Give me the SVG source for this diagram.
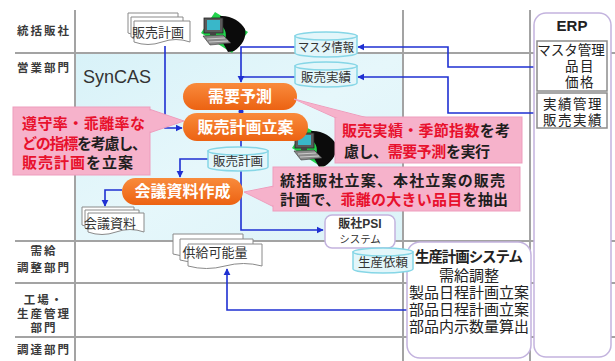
<svg xmlns="http://www.w3.org/2000/svg" width="615" height="361" viewBox="0 0 615 361">
<style>
text{font-family:"Noto Sans CJK JP","Liberation Sans",sans-serif}
.lat{font-family:"Liberation Sans","Noto Sans CJK JP",sans-serif}
.lbl{font-size:11.5px;font-weight:700;fill:#3a3a3a;text-anchor:middle;letter-spacing:2px}
.grid{stroke:#a3a3a3;stroke-width:2;fill:none}
.page{fill:#fff;stroke:#8a8a8a;stroke-width:1}
.doc{font-size:13px;fill:#333;text-anchor:middle}
.cyl{fill:#e3f6fa;stroke:#86d6e6;stroke-width:1.5}
.cylt{font-size:12.5px;fill:#333;text-anchor:middle}
.pill{fill:url(#orange)}
.pillt{font-size:16px;font-weight:700;fill:#fff;text-anchor:middle}
.call{fill:#f6b2cb;stroke:#ee9dbd;stroke-width:1}
.ct{font-size:15px;font-weight:700;fill:#1e1e1e}
.r{fill:#e8112d}
.sys{fill:#fff;stroke:#c3b3de;stroke-width:1.5}
.link{fill:none;stroke:#1f30d2;stroke-width:1.6}
.box{fill:#fff;stroke:#8c8c8c;stroke-width:1.5}
.st{font-size:15px;fill:#222;text-anchor:middle}
.et{font-size:13.5px;fill:#222;text-anchor:middle;letter-spacing:1.5px}
</style>
<defs>
  <linearGradient id="orange" x1="0" y1="0" x2="0" y2="1">
    <stop offset="0" stop-color="#f98b3c"/>
    <stop offset="1" stop-color="#ec6212"/>
  </linearGradient>
  <linearGradient id="panel" x1="0" y1="0" x2="1" y2="1">
    <stop offset="0" stop-color="#d8f2f8"/>
    <stop offset="0.5" stop-color="#e6f7fb"/>
    <stop offset="1" stop-color="#dcf3f8"/>
  </linearGradient>
  <marker id="arr" viewBox="0 0 10 10" refX="9" refY="5" markerWidth="4.5" markerHeight="4.5" orient="auto">
    <path d="M0,0 L10,5 L0,10 z" fill="#1f30d2"/>
  </marker>
  <!-- workstation icon: operator at a terminal on a green tile -->
  <g id="pc">
    <polygon points="14,0 47,20 31,41 0,21" fill="#22d24c"/>
    <path d="M19,4 C29,3 40,9 44,17 C46,25 41,34 33,39 L27,40 L22,31 C26,26 26,19 21,14 Z" fill="#0b0b0b"/>
    <rect x="3" y="6" width="19" height="15" fill="#5a5a5a" stroke="#222" stroke-width="0.8"/>
    <rect x="6" y="8" width="13" height="10" fill="#39b7c9"/>
    <rect x="9" y="21" width="6" height="2" fill="#444"/>
    <polygon points="2,24 22,23 30,31 9,33" fill="#8a8a8a" stroke="#333" stroke-width="0.6"/>
    <path d="M6,27 L24,26 M8,30 L27,29" stroke="#dcdcdc" stroke-width="0.8"/>
  </g>
</defs>

<rect width="615" height="361" fill="#fff"/>

<!-- sales department band -->
<rect x="76" y="54" width="326" height="186" fill="url(#panel)"/>

<!-- lane grid -->
<g id="grid" class="grid">
  <path d="M75,10 V361 M403,10 V361 M530,10 V361"/>
  <path d="M15,53 H615 M15,241 H615 M15,283 H615 M15,337 H615"/>
</g>

<!-- lane labels -->
<g id="lanes">
  <text class="lbl" x="44" y="35">統括販社</text>
  <text class="lbl" x="44" y="72">営業部門</text>
  <text class="lbl" x="44" y="255">需給<tspan x="44" dy="17">調整部門</tspan></text>
  <text class="lbl" x="44" y="304">工場・<tspan x="44" dy="14">生産管理</tspan><tspan x="44" dy="14">部門</tspan></text>
  <text class="lbl" x="44" y="354">調達部門</text>
</g>

<text class="lat" x="83" y="83" font-size="18" fill="#333">SynCAS</text>

<!-- connectors -->
<g id="connectors">
  <path class="link" d="M165,46 V128 H182" marker-end="url(#arr)"/>
  <path class="link" d="M295,47 H241 V82" marker-end="url(#arr)"/>
  <path class="link" d="M295,77 H241"/>
  <path class="link" d="M537,67 H448 V47 H358" marker-end="url(#arr)"/>
  <path class="link" d="M537,113 H448 V77 H358" marker-end="url(#arr)"/>
  <circle cx="241" cy="111.5" r="2.5" fill="#1f30d2"/>
  <path class="link" d="M241,141 V148"/>
  <path class="link" d="M208,159 H180 V177" marker-end="url(#arr)"/>
  <path class="link" d="M122,190 H105 V206" marker-end="url(#arr)"/>
  <path class="link" d="M241,170 V230 H323" marker-end="url(#arr)"/>
  <path class="link" d="M407,310 H227 V269" marker-end="url(#arr)"/>
</g>

<!-- sales plan from the regional sales company -->
<g id="doc-plan">
  <path class="page" d="M128,13 h50 v20 q-12.5,-5 -25,0 t-25,0 z"/>
  <path class="page" d="M131,17 h52 v20 q-13,-5 -26,0 t-26,0 z"/>
  <path class="page" d="M134,21 h56 v21 q-14,-5 -28,0 t-28,0 z"/>
  <text class="doc" x="158" y="37">販売計画</text>
</g>

<use id="pc-top" href="#pc" x="201" y="12"/>
<use id="pc-mid" href="#pc" x="292" y="127"/>

<g id="db-master">
  <path class="cyl" d="M295,36 V53 A31,4 0 0 0 357,53 V36 Z"/>
  <ellipse class="cyl" cx="326" cy="36" rx="31" ry="4"/>
  <text class="cylt" x="326" y="52" textLength="56" lengthAdjust="spacingAndGlyphs">マスタ情報</text>
</g>
<g id="db-actual">
  <path class="cyl" d="M295,66 V83 A31,4 0 0 0 357,83 V66 Z"/>
  <ellipse class="cyl" cx="326" cy="66" rx="31" ry="4"/>
  <text class="cylt" x="326" y="82">販売実績</text>
</g>

<!-- process steps -->
<g id="step-forecast">
  <rect class="pill" x="183" y="83" width="114" height="27" rx="13.5"/>
  <text class="pillt" x="240" y="102">需要予測</text>
</g>
<g id="step-planning">
  <rect class="pill" x="183" y="113" width="125" height="28" rx="14"/>
  <text class="pillt" x="245.5" y="133">販売計画立案</text>
</g>
<g id="db-plan">
  <path class="cyl" d="M208,151 V167 A30,4 0 0 0 268,167 V151 Z"/>
  <ellipse class="cyl" cx="238" cy="151" rx="30" ry="4"/>
  <text class="cylt" x="238" y="166">販売計画</text>
</g>
<g id="step-meeting">
  <rect class="pill" x="122" y="178" width="121" height="27" rx="13.5"/>
  <text class="pillt" x="182.5" y="197">会議資料作成</text>
</g>

<g id="doc-meeting">
  <path class="page" d="M82,207 h52 v18 q-13,-5 -26,0 t-26,0 z"/>
  <path class="page" d="M85,210 h54 v18 q-13.5,-5 -27,0 t-27,0 z"/>
  <path class="page" d="M88,213 h56 v19 q-14,-5 -28,0 t-28,0 z"/>
  <text class="doc" x="110" y="228">会議資料</text>
</g>

<!-- notes -->
<g id="note-planning">
  <polygon class="call" points="149,109 184,121 149,133"/>
  <rect class="call" x="13" y="107" width="137" height="68"/>
  <polygon points="148,110 182,121 148,132" fill="#f6b2cb"/>
  <text class="ct r" x="22" y="129" textLength="123" lengthAdjust="spacing">遵守率・乖離率な</text>
  <text class="ct" x="22" y="149" textLength="125" lengthAdjust="spacing"><tspan class="r">どの指標</tspan>を考慮し、</text>
  <text class="ct" x="22" y="168" textLength="111" lengthAdjust="spacing"><tspan class="r">販売計画</tspan>を立案</text>
</g>
<g id="note-forecast">
  <polygon class="call" points="294,99 336,118 368,118"/>
  <rect class="call" x="335" y="117" width="187" height="46"/>
  <polygon points="296,100 338,118 366,118" fill="#f6b2cb"/>
  <text class="ct" x="342" y="136" textLength="168" lengthAdjust="spacing"><tspan class="r">販売実績・季節指数</tspan>を考</text>
  <text class="ct" x="344" y="157" textLength="146" lengthAdjust="spacing">慮し、<tspan class="r">需要予測</tspan>を実行</text>
</g>
<g id="note-extract">
  <polygon class="call" points="244,192 274,186 274,207"/>
  <rect class="call" x="273" y="167" width="247" height="44"/>
  <polygon points="246,192 275,187 275,206" fill="#f6b2cb"/>
  <text class="ct" x="280" y="186" font-size="16" textLength="225" lengthAdjust="spacing">統括販社立案、本社立案の販売</text>
  <text class="ct" x="280" y="205" font-size="16" textLength="228" lengthAdjust="spacing">計画で、<tspan class="r">乖離の大きい品目</tspan>を抽出</text>
</g>

<g id="psi">
  <rect class="sys" x="325" y="215" width="70" height="33" rx="7"/>
  <text x="360" y="228" font-size="12" font-weight="700" fill="#333" text-anchor="middle"><tspan class="lat">販社PSI</tspan><tspan x="360" dy="15" font-size="10.5" font-weight="400">システム</tspan></text>
</g>

<g id="doc-supply">
  <path class="page" d="M173,234 h70 v20 q-17.5,-5 -35,0 t-35,0 z"/>
  <path class="page" d="M180,239 h73 v21 q-18.25,-5 -36.5,0 t-36.5,0 z"/>
  <path class="page" d="M188,244 h74 v22 q-18.5,-5 -37,0 t-37,0 z"/>
  <text class="doc" x="215" y="257">供給可能量</text>
</g>

<g id="production">
  <rect class="sys" x="407" y="242" width="124" height="116" rx="13"/>
  <text x="469" y="262" font-size="14.5" font-weight="700" fill="#222" text-anchor="middle" textLength="108" lengthAdjust="spacing">生産計画システム</text>
  <text class="st" x="469" y="281">需給調整<tspan x="469" dy="17">製品日程計画立案</tspan><tspan x="469" dy="17">部品日程計画立案</tspan><tspan x="469" dy="17">部品内示数量算出</tspan></text>
</g>

<g id="db-request">
  <path class="cyl" d="M353,252 V269 A30,4 0 0 0 413,269 V252 Z"/>
  <ellipse class="cyl" cx="383" cy="252" rx="30" ry="4"/>
  <text class="cylt" x="383" y="267">生産依頼</text>
</g>

<g id="erp">
  <rect class="sys" x="534" y="13" width="77" height="344" rx="12"/>
  <text class="lat" x="572" y="31" font-size="15" font-weight="700" fill="#222" text-anchor="middle">ERP</text>
  <rect class="box" x="537" y="41" width="70" height="50"/>
  <text class="et" x="571" y="55"><tspan letter-spacing="0">マスタ管理</tspan><tspan x="580" dy="16">品目</tspan><tspan x="580" dy="16">価格</tspan></text>
  <rect class="box" x="537" y="93" width="70" height="35"/>
  <text class="et" x="573" y="109">実績管理<tspan x="573" dy="16">販売実績</tspan></text>
</g>
</svg>
